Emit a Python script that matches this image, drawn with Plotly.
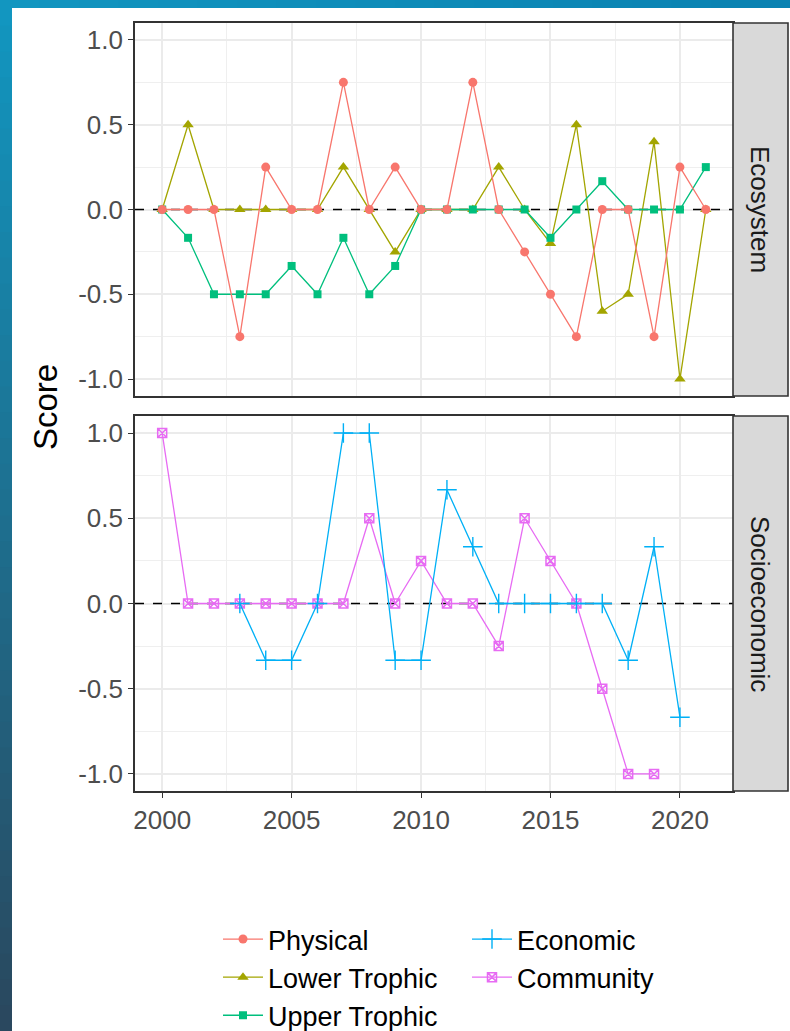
import plotly.graph_objects as go

# ---------------- data ----------------
years_eco = list(range(2000, 2022))
physical = [0, 0, 0, -0.75, 0.25, 0, 0, 0.75, 0, 0.25, 0, 0, 0.75, 0, -0.25, -0.5, -0.75, 0, 0, -0.75, 0.25, 0]
lower_trophic = [0, 0.5, 0, 0, 0, 0, 0, 0.25, 0, -0.25, 0, 0, 0, 0.25, 0, -0.2, 0.5, -0.6, -0.5, 0.4, -1.0, 0]
upper_trophic = [0, -0.167, -0.5, -0.5, -0.5, -0.333, -0.5, -0.167, -0.5, -0.333, 0, 0, 0, 0, 0, -0.167, 0, 0.167, 0, 0, 0, 0.25]

years_econ = list(range(2003, 2021))
economic = [0, -0.333, -0.333, 0, 1, 1, -0.333, -0.333, 0.667, 0.333, 0, 0, 0, 0, 0, -0.333, 0.333, -0.667]
years_comm = list(range(2000, 2020))
community = [1, 0, 0, 0, 0, 0, 0, 0, 0.5, 0, 0.25, 0, 0, -0.25, 0.5, 0.25, 0, -0.5, -1, -1]

y_tickvals = [-1.0, -0.5, 0.0, 0.5, 1.0]
y_ticktext = ["-1.0", "-0.5", "0.0", "0.5", "1.0"]
x_tickvals = [2000, 2005, 2010, 2015, 2020]
panel_names = ["Ecosystem", "Socioeconomic"]
y_title = "Score"

# axis ranges (ggplot-style 5% expansion)
x_range = [1998.95, 2022.05]
y_range = [-1.1, 1.1]
ref_value = 0

# ---------------- geometry (px) ----------------
W, H = 790, 1031
L, R, T, B = 135, 790 - 733, 23, 1031 - 791
PW = W - L - R
PH = H - T - B


def px_x(px):
    return (px - L) / PW


def px_y(py):
    return (H - B - py) / PH


top_dom = [px_y(396), 1.0]
bot_dom = [0.0, px_y(416)]

FONT = "Liberation Sans, Arial, sans-serif"
C_PHYS, C_LOW, C_UP, C_ECON, C_COMM = "#F8766D", "#A3A500", "#00BF7D", "#00B0F6", "#E76BF3"

fig = go.Figure()

# draw order: lower, upper, physical (physical on top); community then economic
fig.add_trace(go.Scatter(x=years_eco, y=lower_trophic, name="Lower Trophic", mode="lines+markers",
                         line=dict(color=C_LOW, width=1.3), marker=dict(symbol="triangle-up", size=10, color=C_LOW),
                         xaxis="x", yaxis="y", legendrank=3))
fig.add_trace(go.Scatter(x=years_eco, y=upper_trophic, name="Upper Trophic", mode="lines+markers",
                         line=dict(color=C_UP, width=1.3), marker=dict(symbol="square", size=8, color=C_UP),
                         xaxis="x", yaxis="y", legendrank=5))
fig.add_trace(go.Scatter(x=years_eco, y=physical, name="Physical", mode="lines+markers",
                         line=dict(color=C_PHYS, width=1.3), marker=dict(symbol="circle", size=9, color=C_PHYS),
                         xaxis="x", yaxis="y", legendrank=1))
fig.add_trace(go.Scatter(x=years_comm, y=community, name="Community", mode="lines+markers",
                         line=dict(color=C_COMM, width=1.3),
                         marker=dict(symbol="square-x-open", size=9, color=C_COMM, line=dict(width=1.5, color=C_COMM)),
                         xaxis="x2", yaxis="y2", legendrank=4))
fig.add_trace(go.Scatter(x=years_econ, y=economic, name="Economic", mode="lines+markers",
                         line=dict(color=C_ECON, width=1.3),
                         marker=dict(symbol="cross-thin-open", size=14, color=C_ECON, line=dict(width=1.4, color=C_ECON)),
                         xaxis="x2", yaxis="y2", legendrank=2))

axis_common = dict(
    range=x_range, showline=True, mirror=True, linecolor="#333333", linewidth=1.6,
    showgrid=True, gridcolor="#ebebeb", gridwidth=1.5, zeroline=False,
    minor=dict(dtick=2.5, tick0=2000, showgrid=True, gridcolor="#efefef", gridwidth=0.9, ticks=""),
    tickvals=x_tickvals, tickfont=dict(family=FONT, size=26, color="#4d4d4d"),
)
yaxis_common = dict(
    range=y_range, showline=True, mirror=True, linecolor="#333333", linewidth=1.6,
    showgrid=True, gridcolor="#ebebeb", gridwidth=1.5, zeroline=False,
    minor=dict(tickvals=[-0.75, -0.25, 0.25, 0.75], showgrid=True, gridcolor="#efefef", gridwidth=0.9, ticks=""),
    tickvals=y_tickvals, ticktext=y_ticktext, ticks="outside", ticklen=5, tickwidth=1.3, tickcolor="#333333",
    tickfont=dict(family=FONT, size=26, color="#4d4d4d"),
)

fig.update_layout(
    width=W, height=H, margin=dict(l=L, r=R, t=T, b=B, pad=0, autoexpand=False),
    paper_bgcolor="white", plot_bgcolor="rgba(0,0,0,0)",
    font=dict(family=FONT),
    xaxis=dict(axis_common, domain=[0, 1], anchor="y", showticklabels=False, ticks="", matches="x2"),
    yaxis=dict(yaxis_common, domain=top_dom, anchor="x"),
    xaxis2=dict(axis_common, domain=[0, 1], anchor="y2", ticks="outside", ticklen=5, tickwidth=1.3,
                tickcolor="#333333"),
    yaxis2=dict(yaxis_common, domain=bot_dom, anchor="x2"),
    showlegend=True,
    legend=dict(orientation="h", x=px_x(218), xanchor="left", y=px_y(915), yanchor="top",
                entrywidth=194, entrywidthmode="pixels", itemwidth=40,
                font=dict(family=FONT, size=27, color="black"),
                bgcolor="rgba(0,0,0,0)", tracegroupgap=0),
)

shapes = []
# slide background: blue gradient strips on the left and top
n = 40
c_top = (18, 150, 192)
c_bot = (42, 72, 95)
for i in range(n):
    f = i / (n - 1)
    col = tuple(int(c_top[k] + (c_bot[k] - c_top[k]) * f) for k in range(3))
    y0 = H * i / n
    y1 = H * (i + 1) / n + 1
    shapes.append(dict(type="rect", xref="paper", yref="paper", x0=px_x(0), x1=px_x(12),
                       y0=px_y(y1), y1=px_y(y0), fillcolor="rgb(%d,%d,%d)" % col, line=dict(width=0),
                       layer="below"))
m = 20
c_l = (18, 150, 192)
c_r = (10, 130, 178)
for i in range(m):
    f = i / (m - 1)
    col = tuple(int(c_l[k] + (c_r[k] - c_l[k]) * f) for k in range(3))
    shapes.append(dict(type="rect", xref="paper", yref="paper", x0=px_x(W * i / m), x1=px_x(W * (i + 1) / m + 1),
                       y0=px_y(8), y1=px_y(0), fillcolor="rgb(%d,%d,%d)" % col, line=dict(width=0),
                       layer="below"))
# zero reference dashed lines (between grid and traces)
for xr, yr in [("x", "y"), ("x2", "y2")]:
    shapes.append(dict(type="line", xref=xr, yref=yr, x0=x_range[0], x1=x_range[1], y0=ref_value, y1=ref_value,
                       line=dict(color="black", width=1.3, dash="dash"), layer="between"))
# facet strips
for dom in [top_dom, bot_dom]:
    shapes.append(dict(type="rect", xref="paper", yref="paper", x0=1.0, x1=px_x(788), y0=dom[0], y1=dom[1],
                       fillcolor="#d9d9d9", line=dict(color="#333333", width=1.6), layer="above"))
fig.update_layout(shapes=shapes)

annotations = []
for name, dom in zip(panel_names, [top_dom, bot_dom]):
    annotations.append(dict(text=name, xref="paper", yref="paper", x=(1.0 + px_x(788)) / 2, y=(dom[0] + dom[1]) / 2,
                            showarrow=False, textangle=90, font=dict(family=FONT, size=26, color="#1a1a1a"),
                            xanchor="center", yanchor="middle"))
annotations.append(dict(text=y_title, xref="paper", yref="paper", x=px_x(45), y=px_y(407), showarrow=False,
                        textangle=-90, font=dict(family=FONT, size=33, color="black"),
                        xanchor="center", yanchor="middle"))
fig.update_layout(annotations=annotations)

fig.write_html("out.html", config={"displayModeBar": False},
               post_script="document.body.style.margin='0px';document.body.style.padding='0px';")
